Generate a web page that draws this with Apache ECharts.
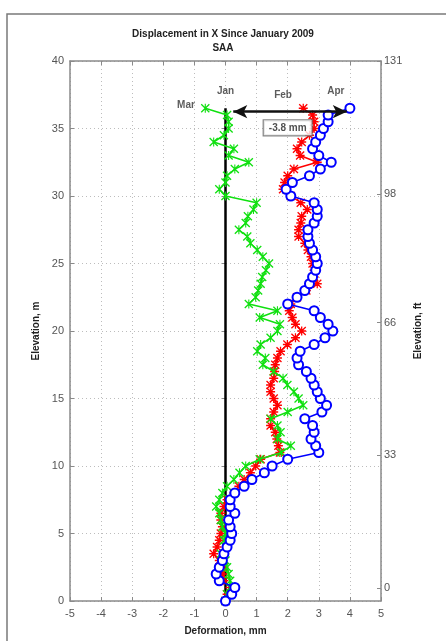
<!DOCTYPE html>
<html>
<head>
<meta charset="utf-8">
<script src="https://cdn.jsdelivr.net/npm/echarts@6/dist/echarts.min.js"></script>
<style>
html,body{margin:0;padding:0;background:#fff;}
#chart{width:446px;height:641px;}
</style>
</head>
<body>
<div id="chart"></div>
<script>
// Elevation (m) of each reading
const elevations = [0,0.5,1,1.5,2,2.5,3,3.5,4,4.5,5,5.5,6,6.5,7,7.5,8,8.5,9,9.5,10,10.5,11,11.5,12,12.5,13,13.5,14,14.5,15,15.5,16,16.5,17,17.5,18,18.5,19,19.5,20,20.5,21,21.5,22,22.5,23,23.5,24,24.5,25,25.5,26,26.5,27,27.5,28,28.5,29,29.5,30,30.5,31,31.5,32,32.5,33,33.5,34,34.5,35,35.5,36,36.5];
// Jan reference line (deformation, mm)
const janElev = [0, 36.5];
const janDef = [0, 0];
// Feb deformation (mm)
const febDef = [0,0.05,0.15,-0.05,-0.1,-0.05,-0.2,-0.38,-0.27,-0.2,-0.15,-0.1,-0.15,-0.15,-0.05,0.05,0.27,0.43,0.6,0.8,0.97,1.13,1.75,1.7,1.65,1.6,1.45,1.45,1.55,1.67,1.55,1.45,1.45,1.55,1.58,1.6,1.67,1.77,1.99,2.25,2.45,2.25,2.15,2.05,2.1,2.3,2.6,2.95,2.85,2.85,2.8,2.75,2.65,2.55,2.35,2.35,2.42,2.45,2.63,2.42,2.1,1.85,1.9,2.0,2.2,2.95,2.4,2.3,2.45,2.7,2.85,2.85,2.8,2.5];
// Mar deformation (mm)
const marDef = [0,0.05,0.15,0.15,0.1,0.05,0,-0.15,0,-0.05,0,-0.1,-0.15,-0.2,-0.3,-0.2,-0.1,0.05,0.27,0.45,0.65,1.1,1.8,2.1,1.67,1.77,1.67,1.45,2.0,2.5,2.35,2.2,1.99,1.85,1.55,1.2,1.28,1.02,1.13,1.45,1.67,1.75,1.1,1.67,0.75,0.97,1.05,1.13,1.18,1.3,1.4,1.2,1.02,0.8,0.7,0.43,0.65,0.72,0.9,1.0,0.0,-0.2,0.0,0.05,0.3,0.75,0.1,0.27,-0.38,-0.05,0.1,0.1,0.05,-0.65];
// Apr deformation (mm)
const aprDef = [0,0.2,0.3,-0.2,-0.3,-0.2,-0.1,-0.05,0.05,0.15,0.2,0.15,0.1,0.3,0.15,0.15,0.3,0.6,0.85,1.25,1.5,2.0,3.0,2.9,2.75,2.85,2.8,2.55,3.1,3.25,3.05,2.95,2.85,2.75,2.6,2.35,2.3,2.4,2.85,3.2,3.45,3.3,3.05,2.85,2.0,2.3,2.55,2.7,2.8,2.9,2.95,2.9,2.8,2.7,2.65,2.65,2.85,2.95,2.95,2.85,2.1,1.95,2.15,2.7,3.05,3.4,3.0,2.8,2.9,3.05,3.15,3.3,3.3,4.0];
// Right axis tick labels (ft)
const ftTicks = [0, 33, 66, 98, 131];
// Annotation labels: [name, deformation mm, elevation m]
const annotNames = ['Jan','Feb','Apr','Mar'];
const annotX = [0, 1.85, 3.55, -1.27];
const annotY = [37.75, 37.5, 37.75, 36.7];
// Difference arrow and its label
const arrowX = [0.25, 3.9];
const arrowElev = 36.25;
const diffLabel = '-3.8 mm';
const diffLabelPos = [2.0, 35.05];

const FONT = 'Liberation Sans, Arial, sans-serif';
const plusX = 'path://M4.3,0H5.7V4.3H10V5.7H5.7V10H4.3V5.7H0V4.3H4.3Z M0,1L1,0L5,4L9,0L10,1L6,5L10,9L9,10L5,6L1,10L0,9L4,5Z';
const xMark = 'path://M0,1L1,0L5,4L9,0L10,1L6,5L10,9L9,10L5,6L1,10L0,9L4,5Z M4.4,0H5.6V10H4.4Z';

function pairs(defs, elevs){ return elevs.map((e,i)=>[defs[i], e]); }

const chart = echarts.init(document.getElementById('chart'), null, {renderer:'canvas'});
const gridColor = '#bdbdbd';
const axisCol = '#8a8a8a';
const option = {
  backgroundColor:'#fff',
  animation:false,
  title:{
    text:'Displacement in X Since January 2009\nSAA',
    left:'center', top:22,
    textStyle:{fontFamily:FONT, fontSize:10, fontWeight:'bold', color:'#222', lineHeight:14}
  },
  grid:{left:70, right:65, top:61, bottom:39, containLabel:false},
  xAxis:[{
    type:'value', min:-5, max:5, interval:1, position:'bottom',
    name:'Deformation, mm', nameLocation:'middle', nameGap:25,
    nameTextStyle:{fontFamily:FONT, fontSize:10, fontWeight:'bold', color:'#222'},
    axisLine:{show:true, onZero:false, lineStyle:{color:axisCol, width:1.5}},
    axisTick:{show:true, inside:true, length:4, lineStyle:{color:axisCol}},
    axisLabel:{fontFamily:FONT, fontSize:11, color:'#555', margin:7},
    splitLine:{show:true, lineStyle:{color:gridColor, type:[1,3], width:1}}
  },{
    type:'value', min:-5, max:5, interval:1, position:'top',
    axisLine:{show:true, onZero:false, lineStyle:{color:axisCol, width:1.5}},
    axisTick:{show:true, inside:true, length:4, lineStyle:{color:axisCol}},
    axisLabel:{show:false}, splitLine:{show:false}
  }],
  yAxis:[{
    type:'value', min:0, max:40, interval:5, position:'left',
    name:'Elevation, m', nameLocation:'middle', nameGap:29, nameRotate:90,
    nameTextStyle:{fontFamily:FONT, fontSize:10, fontWeight:'bold', color:'#222'},
    axisLine:{show:true, onZero:false, lineStyle:{color:axisCol, width:1.5}},
    axisTick:{show:true, inside:true, length:4, lineStyle:{color:axisCol}},
    axisLabel:{fontFamily:FONT, fontSize:11, color:'#555', margin:6},
    splitLine:{show:true, lineStyle:{color:gridColor, type:[1,3], width:1}}
  },{
    type:'value', min:-3.22, max:131, position:'right',
    name:'Elevation, ft', nameLocation:'middle', nameGap:27, nameRotate:90,
    nameTextStyle:{fontFamily:FONT, fontSize:10, fontWeight:'bold', color:'#222'},
    axisLine:{show:true, onZero:false, lineStyle:{color:axisCol, width:1.5}},
    axisTick:{show:true, inside:true, length:4, customValues:ftTicks, lineStyle:{color:axisCol}},
    axisLabel:{fontFamily:FONT, fontSize:11, color:'#555', margin:3, customValues:ftTicks},
    splitLine:{show:false}
  },{
    type:'value', min:0, max:40, interval:5, position:'right',
    axisLine:{show:false},
    axisTick:{show:true, inside:true, length:4, lineStyle:{color:axisCol}},
    axisLabel:{show:false}, splitLine:{show:false}
  }],
  graphic:[{
    type:'rect', shape:{x:7, y:14, width:520, height:720},
    style:{fill:'none', stroke:'#7a7a7a', lineWidth:1.5}, z:100
  }],
  series:[
    {
      name:'Jan', type:'line', data:pairs(janDef, janElev), showSymbol:false,
      lineStyle:{color:'#000', width:2.5}, z:1
    },
    {
      name:'Feb', type:'line', data:pairs(febDef, elevations),
      symbol:plusX, symbolSize:9, showAllSymbol:true,
      itemStyle:{color:'#ff0000'}, lineStyle:{color:'#ff0000', width:1.5}, z:2
    },
    {
      name:'Mar', type:'line', data:pairs(marDef, elevations),
      symbol:xMark, symbolSize:9, showAllSymbol:true,
      itemStyle:{color:'#10e010'}, lineStyle:{color:'#10e010', width:1.5}, z:3
    },
    {
      name:'Apr', type:'line', data:pairs(aprDef, elevations),
      symbol:'emptyCircle', symbolSize:9, showAllSymbol:true,
      itemStyle:{color:'#0000ff', borderWidth:1.5}, lineStyle:{color:'#0000ff', width:1.5}, z:4
    },
    {
      name:'annot', type:'scatter', symbolSize:0, z:10,
      data:annotNames.map((n,i)=>({name:n, value:[annotX[i], annotY[i]]})),
      label:{show:true, position:'inside', formatter:'{b}', fontFamily:FONT, fontSize:10, fontWeight:'bold', color:'#333'},
      markLine:{
        silent:true, symbol:['arrow','arrow'], symbolSize:[10,14],
        lineStyle:{color:'#111', width:2.5, type:'solid'},
        label:{show:false},
        data:[[{coord:[arrowX[0], arrowElev]},{coord:[arrowX[1], arrowElev]}]]
      }
    },
    {
      name:'diff', type:'scatter', symbolSize:0, z:11,
      data:[{name:diffLabel, value:diffLabelPos}],
      label:{show:true, position:'inside', formatter:'{b}', fontFamily:FONT, fontSize:10, fontWeight:'bold', color:'#222',
        backgroundColor:'#fff', borderColor:'#666', borderWidth:1.2, padding:[3,5,2,5]}
    }
  ]
};
chart.setOption(option);
</script>
</body>
</html>
